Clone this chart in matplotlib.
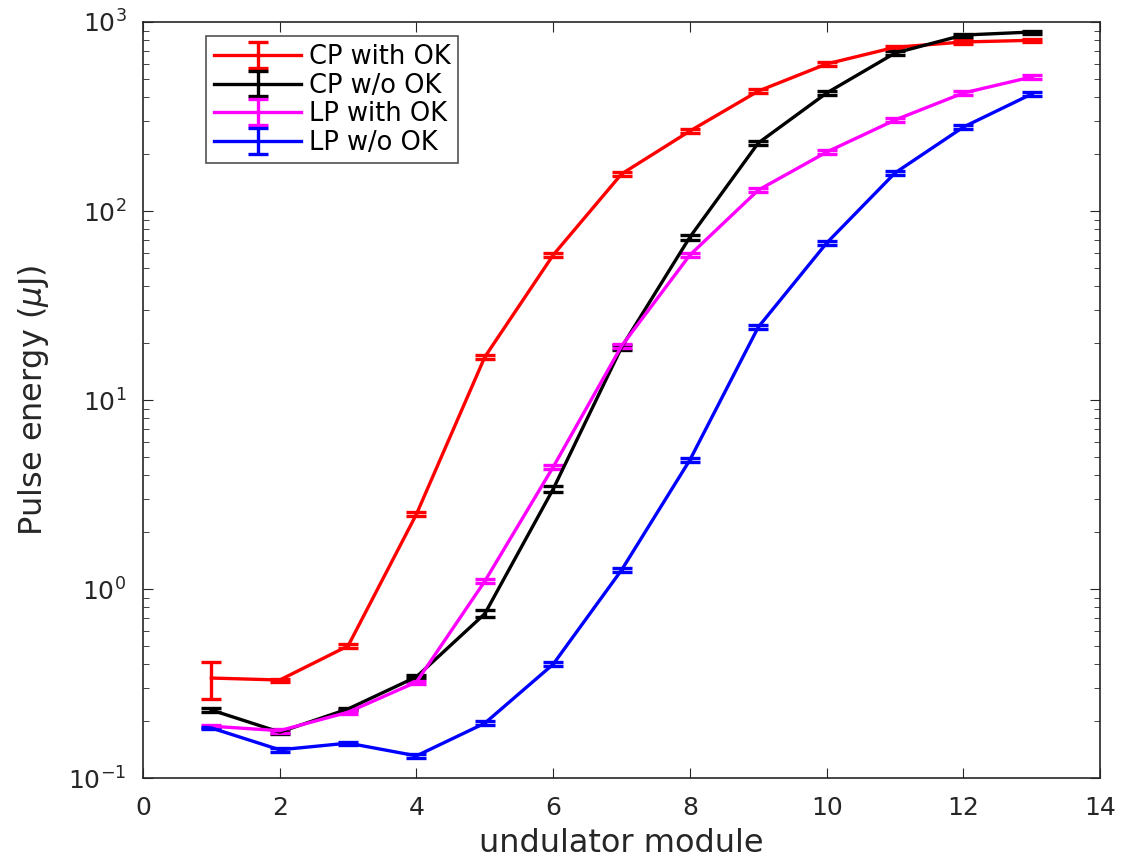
import numpy as np
import matplotlib
matplotlib.use("Agg")
import matplotlib.pyplot as plt

# data
module = [1, 2, 3, 4, 5, 6, 7, 8, 9, 10, 11, 12, 13]

cp_ok = [0.338, 0.33, 0.50, 2.49, 16.9, 58.5, 157, 265, 431, 600, 735, 784, 800]
cp_ok_err = [0.075, 0.006, 0.012, 0.06, 0.4, 1.4, 3.5, 6, 9, 12, 14, 15, 15]

cp_no = [0.229, 0.175, 0.232, 0.343, 0.74, 3.38, 19.0, 72.8, 229, 421, 685, 853, 885]
cp_no_err = [0.006, 0.005, 0.004, 0.006, 0.03, 0.12, 0.5, 2.2, 6, 9, 14, 16, 16]

lp_ok = [0.188, 0.178, 0.223, 0.322, 1.10, 4.42, 19.3, 58.5, 129, 205, 303, 421, 512]
lp_ok_err = [0.003, 0.004, 0.004, 0.006, 0.03, 0.12, 0.5, 1.5, 3, 5, 6, 8, 10]

lp_no = [0.184, 0.141, 0.153, 0.131, 0.195, 0.40, 1.26, 4.82, 24.3, 67.7, 159, 278, 416]
lp_no_err = [0.003, 0.004, 0.003, 0.003, 0.005, 0.01, 0.03, 0.12, 0.6, 1.6, 4, 6, 9]

series = [
    ("CP with OK", cp_ok, cp_ok_err, "#ff0000"),
    ("CP w/o OK", cp_no, cp_no_err, "#000000"),
    ("LP with OK", lp_ok, lp_ok_err, "#ff00ff"),
    ("LP w/o OK", lp_no, lp_no_err, "#0000ff"),
]

fig = plt.figure(figsize=(11.26, 8.66), dpi=100)
ax = fig.add_axes([0.127, 0.1016, 0.85, 0.873])

for name, vals, err, col in series:
    ax.errorbar(module, vals, yerr=err, color=col, lw=2.4, elinewidth=2.4,
                capsize=7, capthick=2.4, label=name)

ax.set_yscale("log")
ax.set_xlim(0, 14)
ax.set_ylim(0.1, 1000)
ax.set_xticks(np.arange(0, 15, 2))
ax.tick_params(which="both", direction="in", top=True, right=True, labelsize=18,
               colors="#262626")
ax.tick_params(axis="x", pad=13)
ax.tick_params(axis="y", pad=12)
ax.tick_params(which="major", length=7)
ax.tick_params(which="minor", length=4)
for sp in ax.spines.values():
    sp.set_color("#262626")
    sp.set_linewidth(1.2)

ax.set_xlabel("undulator module", fontsize=23, color="#262626", labelpad=6)
ax.set_ylabel(r"Pulse energy ($\mu$J)", fontsize=23, color="#262626", labelpad=12)

leg = ax.legend(loc="upper left", bbox_to_anchor=(0.066, 0.981), fontsize=18.5,
                frameon=True, fancybox=False, edgecolor="#262626",
                handlelength=3.4, borderpad=0.3, borderaxespad=0,
                labelspacing=0.1, handletextpad=0.3)
leg.get_frame().set_linewidth(1.2)

fig.savefig("out.png", dpi=100)
